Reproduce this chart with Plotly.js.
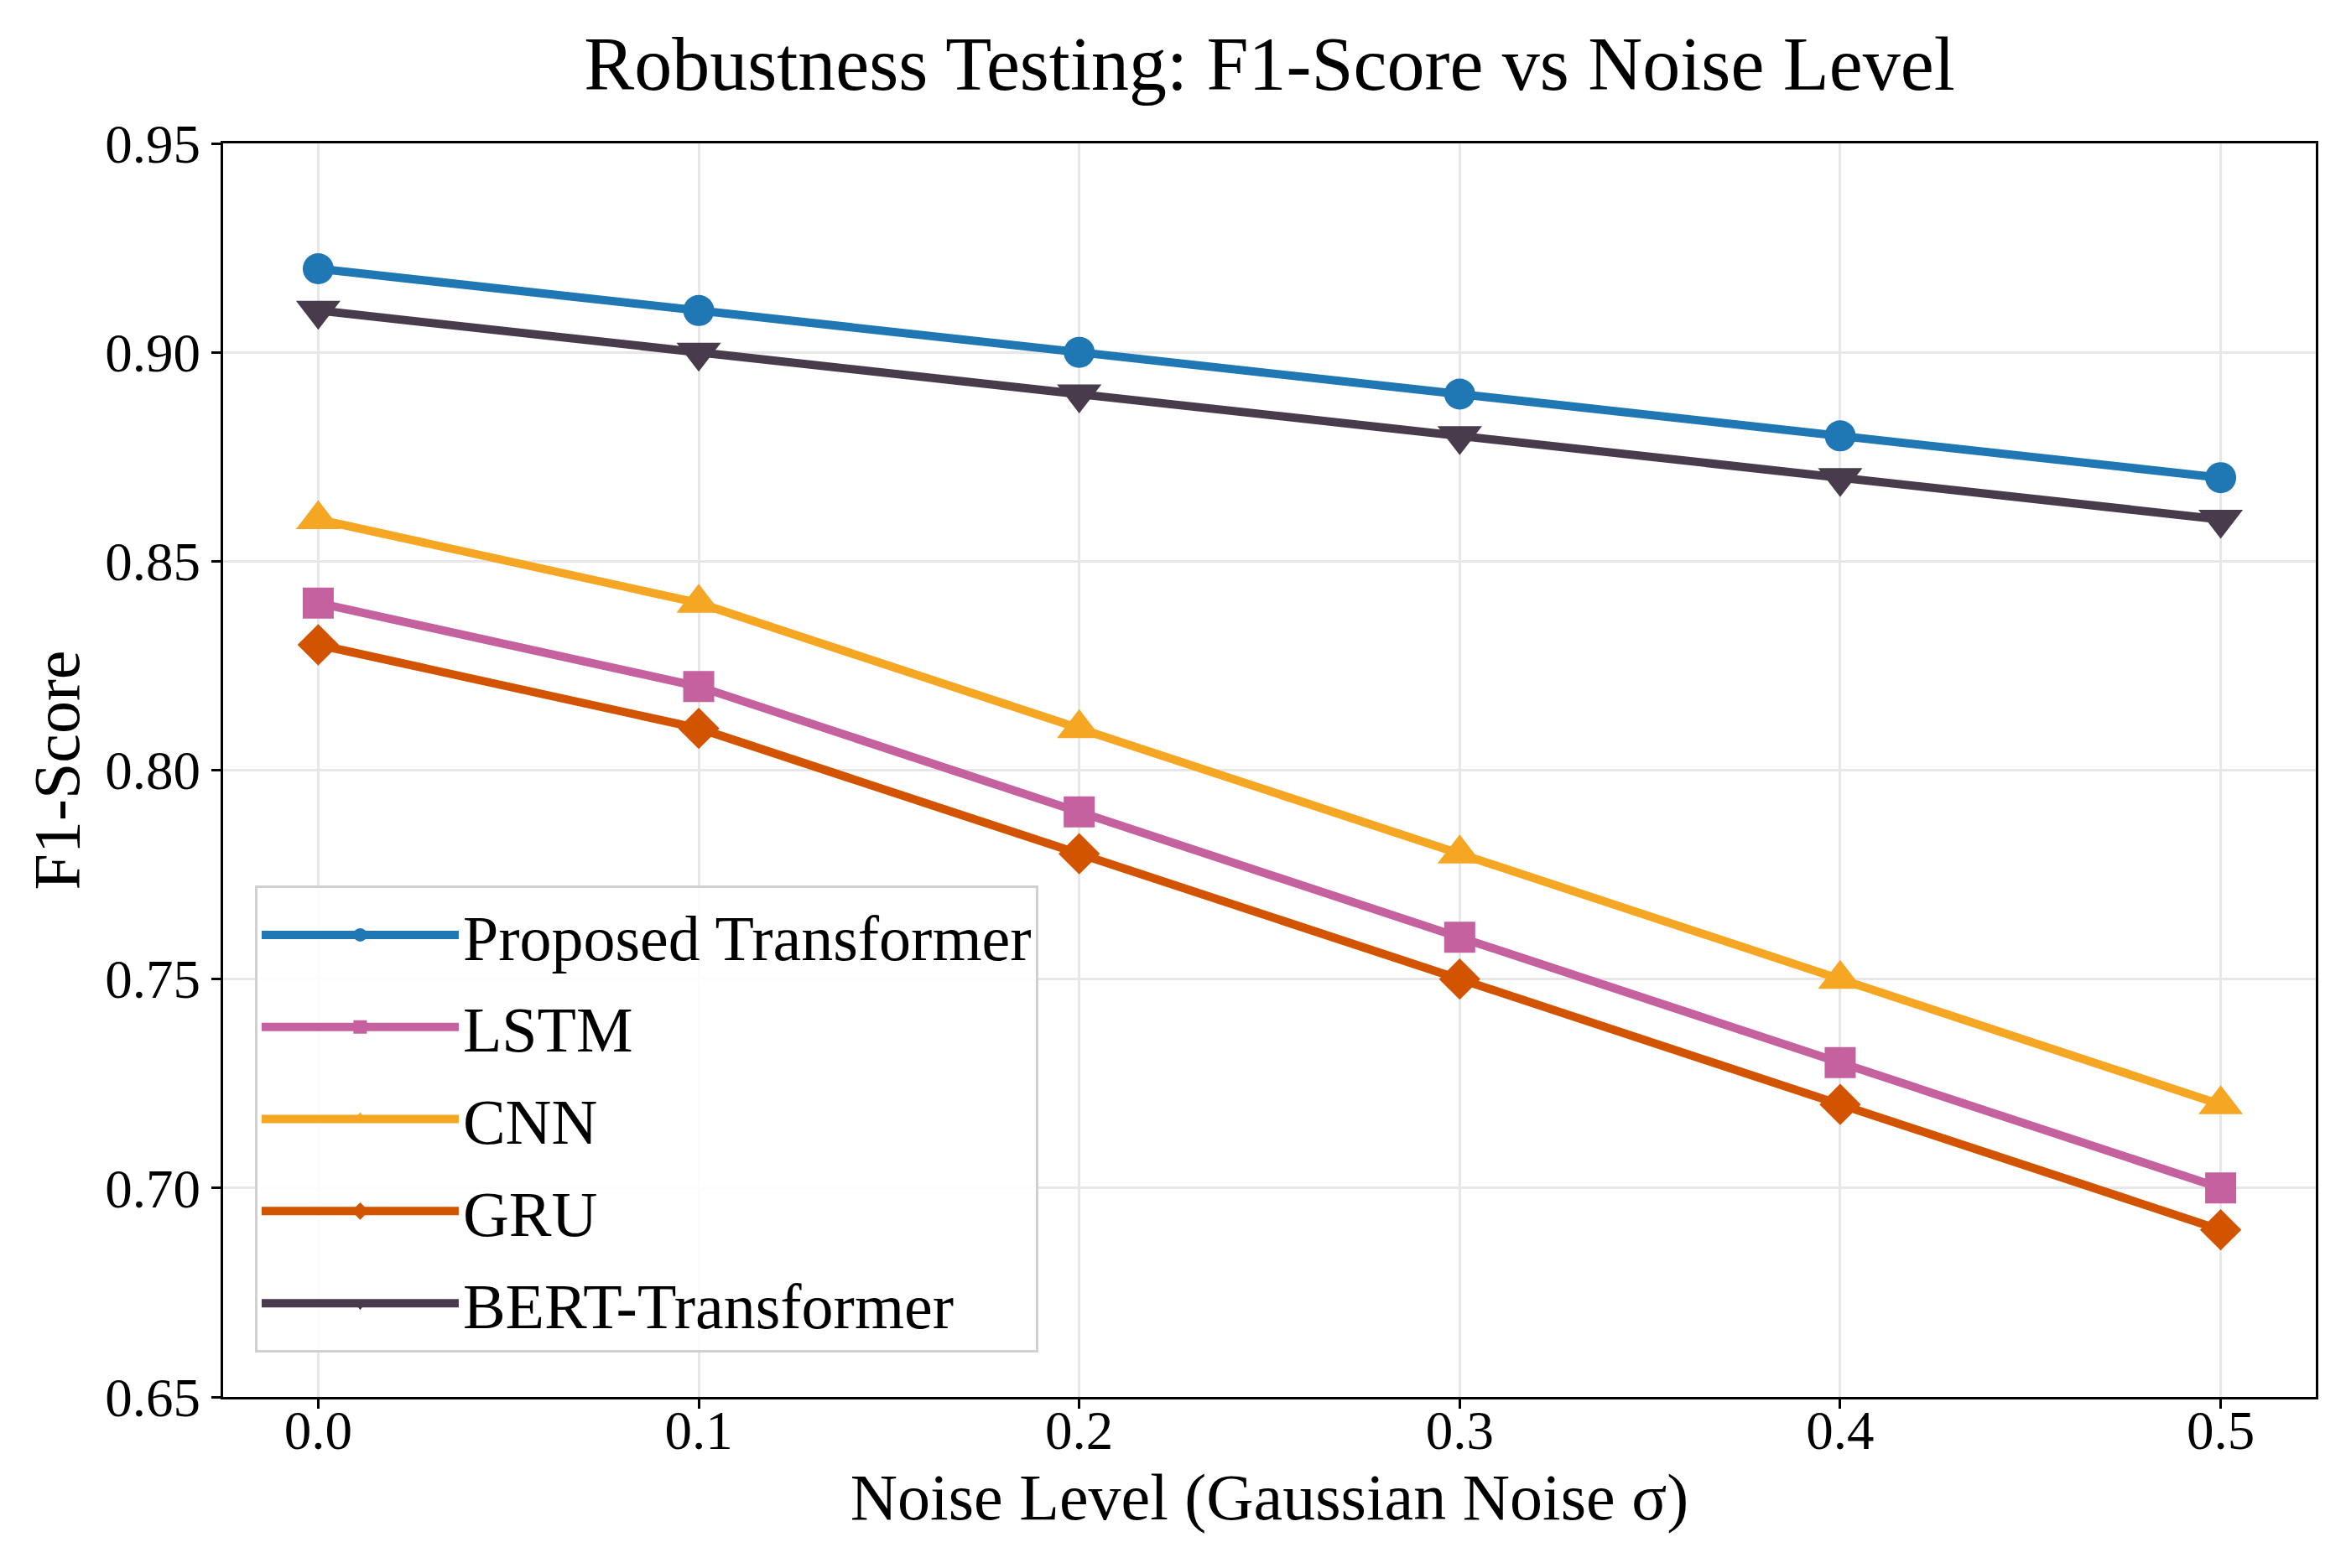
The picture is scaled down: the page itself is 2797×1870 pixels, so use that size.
<!DOCTYPE html>
<html>
<head>
<meta charset="utf-8">
<script src="https://cdn.plot.ly/plotly-3.0.1.min.js"></script>
<style>
  html, body { margin: 0; padding: 0; background: #ffffff; }
  #robustness-plot { width: 2797px; height: 1870px; }
</style>
</head>
<body>
<div id="robustness-plot"></div>
<script>
// ------------------------------------------------------------------------------
// DATA

const noise_levels = [0.0, 0.1, 0.2, 0.3, 0.4, 0.5];
const series_names = ['Proposed Transformer', 'LSTM', 'CNN', 'GRU', 'BERT-Transformer'];

const proposed_f1 = [0.92, 0.91, 0.90, 0.89, 0.88, 0.87];
const lstm_f1     = [0.84, 0.82, 0.79, 0.76, 0.73, 0.70];
const cnn_f1      = [0.86, 0.84, 0.81, 0.78, 0.75, 0.72];
const gru_f1      = [0.83, 0.81, 0.78, 0.75, 0.72, 0.69];
const bert_f1     = [0.91, 0.90, 0.89, 0.88, 0.87, 0.86];

const x_tickvals = [0.0, 0.1, 0.2, 0.3, 0.4, 0.5];
const y_tickvals = [0.65, 0.70, 0.75, 0.80, 0.85, 0.90, 0.95];


// ------------------------------------------------------------------------------
// STYLE

const font_family = '"Liberation Serif", "Times New Roman", Times, serif';

const series_values  = [proposed_f1, lstm_f1, cnn_f1, gru_f1, bert_f1];
const series_colors  = ['#1f77b4', '#c5619f', '#f5a623', '#d35400', '#483b4b'];
const series_symbols = ['circle', 'square', 'triangle-up', 'diamond', 'triangle-down'];
const series_sizes   = [37, 37, 46, 38, 46];


// ------------------------------------------------------------------------------
// TRACES

const traces = [];
for (let i = 0; i < series_names.length; i++) {
    traces.push({
        name: series_names[i],
        legendgroup: 'g' + i,
        x: noise_levels,
        y: series_values[i],
        type: 'scatter',
        mode: 'lines+markers',
        line: {
            color: series_colors[i],
            width: 10
        },
        marker: {
            color: series_colors[i],
            symbol: series_symbols[i],
            size: series_sizes[i],
            line: { width: 0 }
        },
        hoverinfo: 'none'
    });
}


// ------------------------------------------------------------------------------
// LAYOUT

const layout = {
    width: 2797,
    height: 1870,
    paper_bgcolor: '#ffffff',
    plot_bgcolor: '#ffffff',
    font: {
        family: font_family,
        color: '#000000',
        size: 65
    },
    margin: {
        l: 266,
        r: 36,
        t: 171,
        b: 204,
        pad: 0
    },
    title: {
        text: 'Robustness Testing: F1-Score vs Noise Level',
        x: 0.5,
        xref: 'paper',
        xanchor: 'center',
        y: 1 - 75 / 1870,
        yref: 'container',
        yanchor: 'middle',
        font: {
            family: font_family,
            size: 90,
            color: '#000000'
        }
    },
    xaxis: {
        title: {
            text: 'Noise Level (Gaussian Noise σ)',
            standoff: 0,
            font: { family: font_family, size: 78, color: '#000000' }
        },
        range: [-0.025, 0.525],
        tickvals: x_tickvals,
        tickformat: '.1f',
        ticks: 'outside',
        ticklen: 11,
        tickwidth: 3,
        tickcolor: '#000000',
        ticklabelstandoff: -30,
        tickfont: { family: font_family, size: 65, color: '#000000' },
        showline: true,
        linecolor: '#000000',
        linewidth: 3,
        mirror: true,
        showgrid: true,
        gridcolor: '#e7e7e7',
        gridwidth: 3,
        zeroline: false,
        fixedrange: true
    },
    yaxis: {
        title: {
            text: 'F1-Score',
            standoff: 5,
            font: { family: font_family, size: 78, color: '#000000' }
        },
        range: [0.65, 0.95],
        tickvals: y_tickvals,
        tickformat: '.2f',
        ticks: 'outside',
        ticklen: 11,
        tickwidth: 3,
        tickcolor: '#000000',
        tickfont: { family: font_family, size: 65, color: '#000000' },
        showline: true,
        linecolor: '#000000',
        linewidth: 3,
        mirror: true,
        showgrid: true,
        gridcolor: '#e7e7e7',
        gridwidth: 3,
        zeroline: false,
        fixedrange: true
    },
    showlegend: true,
    legend: {
        x: 0.0152,
        y: 0.408,
        xanchor: 'left',
        yanchor: 'top',
        xref: 'paper',
        yref: 'paper',
        bgcolor: 'rgba(255,255,255,0.85)',
        bordercolor: '#d0d0d0',
        borderwidth: 3,
        itemwidth: 235,
        entrywidth: 725,
        tracegroupgap: 8,
        traceorder: 'grouped',
        font: {
            family: font_family,
            size: 76,
            color: '#000000'
        }
    }
};

const config = {
    displayModeBar: false,
    responsive: false,
    staticPlot: true
};

Plotly.newPlot('robustness-plot', traces, layout, config);
</script>
</body>
</html>
